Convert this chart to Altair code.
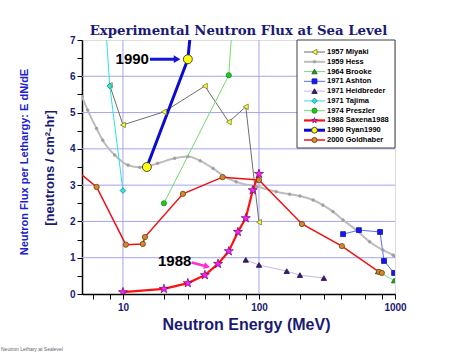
import altair as alt
import pandas as pd

# ---------------- data ----------------
miyaki_x = [8, 10, 20, 40, 60, 80, 100]
miyaki_y = [5.75, 4.66, 5.02, 5.73, 4.74, 5.16, 1.98]

hess_x = [5, 5.5, 6.4, 7.1, 8.7, 10.9, 13.3, 18, 24, 30, 37, 46, 55, 68, 96,
          134, 168, 200, 250, 295, 350, 415, 520, 650, 815, 970, 1000]
hess_y = [5.44, 5.07, 4.56, 4.24, 3.83, 3.55, 3.49, 3.6, 3.74, 3.79, 3.67, 3.46,
          3.25, 3.09, 2.96, 2.82, 2.75, 2.70, 2.59, 2.45, 2.27, 2.04, 1.76, 1.44,
          1.21, 1.07, 1.04]

brooke_x = [750, 985]
brooke_y = [0.62, 0.37]

ashton_x = [415, 543, 776, 830, 985]
ashton_y = [1.65, 1.76, 1.71, 0.91, 0.58]

heid_x = [80, 100, 160, 200, 300]
heid_y = [0.94, 0.80, 0.63, 0.52, 0.44]

tajima_x = [7.0, 8.0, 10]
tajima_y = [9.0, 5.73, 2.85]

preszler_x = [20, 60, 68]
preszler_y = [2.5, 6.03, 9.0]

saxena_x = [10, 20, 30, 40, 50, 60, 70, 80, 90, 100]
saxena_y = [0.05, 0.14, 0.30, 0.52, 0.83, 1.18, 1.71, 2.09, 2.86, 3.31]

ryan_x = [15, 30, 35]
ryan_y = [3.5, 6.47, 9.0]

gold_x = [4.5, 6.4, 10.5, 14, 14.5, 27.6, 54, 100, 207, 407, 762, 800]
gold_y = [3.42, 2.95, 1.36, 1.38, 1.57, 2.76, 3.22, 3.14, 1.93, 1.32, 0.61, 0.58]

x_tick_values = [6, 8, 10, 20, 30, 40, 60, 80, 100, 200, 300, 400, 600, 800, 1000]
y_tick_values = [i * 0.5 for i in range(15)]
grid_y = [1, 2, 3, 4, 5, 6]
grid_x = [10, 100]

label_text = ["1990", "1988"]
label_x = [11.7, 24.0]
label_y = [6.49, 0.90]

arrow1990_x = [15.8, 25.0]
arrow1990_y = [6.47, 6.47]
arrow1988_x = [32.0, 41.5]
arrow1988_y = [0.87, 0.76]

STAR = "M0,-1L0.2245,-0.309L0.951,-0.309L0.363,0.118L0.588,0.809L0,0.382L-0.588,0.809L-0.363,0.118L-0.951,-0.309L-0.2245,-0.309Z"

series = [
    dict(name="1957 Miyaki", x=miyaki_x, y=miyaki_y, line="#6e6e6e", lw=1.0,
         shape="triangle-left", fill="#ffff30", stroke="#7a7a30", size=32),
    dict(name="1959 Hess", x=hess_x, y=hess_y, line="#bdbdbd", lw=2.0,
         shape="circle", fill="#a0a0a0", stroke="#a0a0a0", size=7, interp="monotone"),
    dict(name="1964 Brooke", x=brooke_x, y=brooke_y, line="#80e080", lw=1.0,
         shape="triangle-up", fill="#20a020", stroke="#106010", size=28),
    dict(name="1971 Ashton", x=ashton_x, y=ashton_y, line="#5a6ff0", lw=1.0,
         shape="square", fill="#1818f0", stroke="#1010b0", size=24),
    dict(name="1971 Heidbreder", x=heid_x, y=heid_y, line="#c8b8e0", lw=1.0,
         shape="triangle-up", fill="#3a1870", stroke="#2a1050", size=30),
    dict(name="1971 Tajima", x=tajima_x, y=tajima_y, line="#30e0e0", lw=1.0,
         shape="diamond", fill="#30e0e0", stroke="#209090", size=32),
    dict(name="1974 Preszler", x=preszler_x, y=preszler_y, line="#70dc70", lw=1.0,
         shape="circle", fill="#20cc20", stroke="#108010", size=26),
    dict(name="1988 Saxena1988", x=saxena_x, y=saxena_y, line="#ff1010", lw=2.2,
         shape=STAR, fill="#ff20ff", stroke="#7a1070", size=90),
    dict(name="1990 Ryan1990", x=ryan_x, y=ryan_y, line="#0a0ad0", lw=3.0,
         shape="circle", fill="#ffff10", stroke="#202020", size=80),
    dict(name="2000 Goldhaber", x=gold_x, y=gold_y, line="#ee1010", lw=1.5,
         shape="circle", fill="#d08a30", stroke="#704010", size=28),
]

NAVY = "#1a1a73"

X = alt.X("x:Q",
          scale=alt.Scale(type="log", domain=[5, 1000], nice=False),
          axis=alt.Axis(values=x_tick_values, grid=False,
                        labelExpr="(datum.value==10||datum.value==100||datum.value==1000) ? format(datum.value,'d') : ''",
                        title="Neutron Energy (MeV)", titleFontSize=16, titleFont="Liberation Sans",
                        titleFontWeight="bold", titleColor=NAVY, titlePadding=4, titleX=164,
                        labelFont="Liberation Sans", labelFontSize=10, labelFontWeight="bold",
                        labelColor=NAVY, labelPadding=3, tickSize=5, tickColor="#000",
                        domainColor="#000", domainWidth=1.5, labelFlush=False, labelOverlap=False))
Y = alt.Y("y:Q",
          scale=alt.Scale(domain=[0, 7], nice=False, zero=False),
          axis=alt.Axis(values=y_tick_values, grid=False, title=None,
                        labelExpr="datum.value % 1 == 0 ? format(datum.value,'d') : ''",
                        labelFont="Liberation Sans", labelFontSize=10, labelFontWeight="bold",
                        labelColor=NAVY, labelPadding=2, tickSize=5, tickColor="#000",
                        domainColor="#000", domainWidth=1.5, labelFlush=False, labelOverlap=False))

layers = []

# grid
layers.append(alt.Chart(pd.DataFrame({"y": grid_y})).mark_rule(color="#a4a4ee", strokeWidth=1).encode(y=Y))
layers.append(alt.Chart(pd.DataFrame({"x": grid_x})).mark_rule(color="#a4a4ee", strokeWidth=1).encode(x=X))

for s in series:
    df = pd.DataFrame({"x": s["x"], "y": s["y"]})
    layers.append(alt.Chart(df).mark_line(color=s["line"], strokeWidth=s["lw"], clip=True,
                                          interpolate=s.get("interp", "linear")).encode(x=X, y=Y))
for s in series:
    df = pd.DataFrame({"x": s["x"], "y": s["y"]})
    layers.append(alt.Chart(df).mark_point(shape=s["shape"], size=s["size"], filled=True,
                                           color=s["fill"], stroke=s["stroke"], strokeWidth=0.8,
                                           opacity=1, clip=True).encode(x=X, y=Y))

# annotations
layers.append(alt.Chart(pd.DataFrame({"x": arrow1990_x, "y": arrow1990_y}))
              .mark_line(color="#1515d8", strokeWidth=3).encode(x=X, y=Y))
layers.append(alt.Chart(pd.DataFrame({"x": arrow1990_x[-1:], "y": arrow1990_y[-1:]}))
              .mark_point(shape="triangle-right", size=60, filled=True, color="#1515d8", opacity=1)
              .encode(x=X, y=Y))
layers.append(alt.Chart(pd.DataFrame({"x": arrow1988_x, "y": arrow1988_y}))
              .mark_line(color="#ff30d0", strokeWidth=2.5).encode(x=X, y=Y))
layers.append(alt.Chart(pd.DataFrame({"x": arrow1988_x[-1:], "y": arrow1988_y[-1:]}))
              .mark_point(shape="triangle-right", size=50, filled=True, color="#ff30d0", opacity=1, angle=14)
              .encode(x=X, y=Y))
layers.append(alt.Chart(pd.DataFrame({"x": label_x, "y": label_y, "t": label_text}))
              .mark_text(font="Liberation Sans", fontSize=15, fontWeight="bold", color="#000")
              .encode(x=X, y=Y, text="t:N"))

main = alt.layer(*layers)

# ---------------- legend ----------------
leg = pd.DataFrame({
    "name": [s["name"] for s in series],
    "row": list(range(len(series))),
    "line": [s["line"] for s in series],
    "lw": [s["lw"] for s in series],
    "shape": [s["shape"] for s in series],
    "fill": [s["fill"] for s in series],
    "stroke": [s["stroke"] for s in series],
    "lsize": [min(s["size"], 34) if s["size"] > 10 else 6 for s in series],
})
LY = alt.Y("row:O", scale=alt.Scale(type="point", range=[12, 100], padding=0), axis=None)

box = alt.Chart(pd.DataFrame({"a": [0]})).mark_rect(fill="white", stroke="#404040", strokeWidth=1).encode(
    x=alt.value(215), x2=alt.value(313), y=alt.value(0), y2=alt.value(108))
leg_lines = alt.Chart(leg).mark_rule().encode(
    x=alt.value(222), x2=alt.value(243), y=LY,
    color=alt.Color("line:N", scale=None), strokeWidth=alt.StrokeWidth("lw:Q", scale=None))
leg_pts = alt.Chart(leg).mark_point(filled=True, opacity=1, strokeWidth=0.8).encode(
    x=alt.value(232.5), y=LY,
    shape=alt.Shape("shape:N", scale=None), fill=alt.Fill("fill:N", scale=None),
    stroke=alt.Stroke("stroke:N", scale=None), size=alt.Size("lsize:Q", scale=None))
leg_txt = alt.Chart(leg).mark_text(align="left", baseline="middle", font="Liberation Sans",
                                   fontSize=7.5, fontWeight="bold", color="#000").encode(
    x=alt.value(245), y=LY, text="name:N")

legend = alt.layer(box, leg_lines, leg_pts, leg_txt)

# y-axis titles and footnote
ytitle1 = alt.Chart(pd.DataFrame({"t": ["Neutron Flux per Lethargy:  E dN/dE"]})).mark_text(
    angle=270, font="Liberation Sans", fontSize=11, fontWeight="bold", color="#2020d0",
    align="center", baseline="middle").encode(x=alt.value(-57), y=alt.value(122), text="t:N")
ytitle2 = alt.Chart(pd.DataFrame({"t": ["[neutrons / cm\u00b2-hr]"]})).mark_text(
    angle=270, font="Liberation Sans", fontSize=13, fontWeight="bold", color=NAVY,
    align="center", baseline="middle").encode(x=alt.value(-32), y=alt.value(128), text="t:N")
foot = alt.Chart(pd.DataFrame({"t": ["Neutron Lethary at Sealevel"]})).mark_text(
    font="Liberation Sans", fontSize=5, color="#666", align="left", baseline="middle").encode(
    x=alt.value(-81), y=alt.value(309), text="t:N")

extras = alt.layer(legend, ytitle1, ytitle2, foot)

chart = alt.layer(main, extras).resolve_scale(y="independent").properties(
    width=313, height=254,
    padding={"left": 82, "top": 40, "right": 62, "bottom": 59},
    autosize=alt.AutoSizeParams(type="none"),
    title=alt.TitleParams("Experimental Neutron Flux at Sea Level", font="DejaVu Serif",
                          fontSize=13.3, fontWeight="bold", color=NAVY, anchor="middle", offset=-2),
).configure_view(stroke="#333", strokeWidth=2).configure(background="white")

chart.save("out.html", embed_options={"renderer": "svg", "actions": False})
